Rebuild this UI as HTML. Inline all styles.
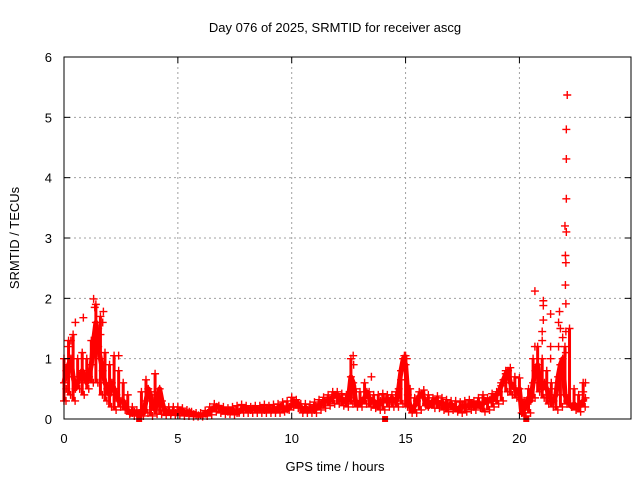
<!DOCTYPE html>
<html><head><meta charset="utf-8"><style>
body{margin:0;background:#fff;}
svg{display:block;font-family:"Liberation Sans",sans-serif;}
</style></head><body>
<svg id="chart" width="640" height="480">
<text x="335" y="32" text-anchor="middle" font-size="13">Day 076 of 2025, SRMTID for receiver ascg</text>
<text x="335" y="471" text-anchor="middle" font-size="13">GPS time / hours</text>
<text transform="translate(19,238) rotate(-90)" text-anchor="middle" font-size="13">SRMTID / TECUs</text>
<g id="grid"></g><g id="marks"></g><g id="axes"></g>
</svg>
<script>
const xTicks=[0,5,10,15,20];
const yTicks=[0,1,2,3,4,5,6];
const baseStart=0, baseStep=0.1;
const baseValues=[0.6,0.8,0.9,1.0,0.7,0.5,0.6,0.7,0.8,0.7,0.6,0.7,0.9,1.3,1.6,1.2,1.0,0.8,0.6,0.5,0.4,0.6,0.5,0.4,0.3,0.3,0.3,0.2,0.15,0.1,0.1,0.12,0.1,0.1,0.08,0.1,0.3,0.5,0.4,0.2,0.15,0.3,0.5,0.3,0.15,0.12,0.12,0.1,0.12,0.1,0.12,0.12,0.14,0.1,0.1,0.12,0.1,0.08,0.07,0.06,0.06,0.07,0.09,0.1,0.13,0.16,0.18,0.2,0.2,0.17,0.15,0.13,0.12,0.12,0.14,0.12,0.1,0.12,0.16,0.18,0.17,0.16,0.15,0.17,0.18,0.16,0.16,0.17,0.15,0.16,0.17,0.15,0.16,0.15,0.17,0.2,0.18,0.17,0.16,0.2,0.22,0.3,0.28,0.25,0.2,0.15,0.18,0.15,0.16,0.18,0.15,0.2,0.22,0.25,0.28,0.3,0.3,0.32,0.36,0.4,0.38,0.35,0.3,0.3,0.28,0.35,0.7,0.6,0.3,0.25,0.28,0.3,0.35,0.45,0.35,0.3,0.3,0.25,0.22,0.3,0.3,0.32,0.3,0.3,0.35,0.3,0.3,0.5,0.8,1.0,0.9,0.4,0.2,0.15,0.22,0.3,0.38,0.42,0.35,0.25,0.2,0.25,0.3,0.3,0.28,0.25,0.28,0.22,0.2,0.22,0.25,0.2,0.18,0.15,0.2,0.22,0.2,0.22,0.22,0.25,0.2,0.22,0.28,0.2,0.25,0.3,0.3,0.32,0.3,0.35,0.4,0.45,0.55,0.65,0.75,0.8,0.6,0.55,0.5,0.45,0.5,0.1,0.15,0.25,0.35,0.3,0.6,0.8,0.9,0.6,0.5,0.6,0.5,0.4,0.3,0.3,0.4,0.7,0.9,1.0,0.4,0.3,0.25,0.2,0.25,0.2,0.2,0.25,0.3,0.35];
const envStep=0.2;
const upperValues=[1.0,1.3,1.4,1.0,1.1,1.0,1.3,1.9,1.7,1.1,0.9,1.05,0.8,0.6,0.4,
0.2,0.15,0.45,0.65,0.45,0.75,0.3,0.2,0.2,0.2,0.2,0.18,0.15,0.12,0.1,
0.1,0.14,0.2,0.25,0.22,0.2,0.18,0.2,0.22,0.24,0.22,0.2,0.22,0.22,0.24,
0.22,0.24,0.25,0.28,0.3,0.36,0.32,0.25,0.25,0.24,0.28,0.32,0.36,0.4,0.45,
0.45,0.42,0.4,1.0,0.5,0.45,0.6,0.45,0.4,0.4,0.42,0.4,0.4,0.45,0.65,
1.05,0.5,0.35,0.45,0.48,0.4,0.35,0.38,0.35,0.32,0.3,0.3,0.28,0.3,0.32,
0.3,0.35,0.4,0.35,0.42,0.45,0.6,0.8,0.85,0.7,0.68,0.3,0.5,1.0,1.2,
1.0,0.8,0.6,0.5,0.9,1.2,1.5,0.5,0.4,0.6];
const lowerValues=[0.3,0.4,0.3,0.5,0.4,0.5,0.6,0.6,0.4,0.3,0.2,0.15,0.2,0.15,0.08,
0.05,0.05,0.05,0.1,0.05,0.08,0.08,0.06,0.07,0.06,0.06,0.05,0.05,0.04,0.04,
0.04,0.05,0.07,0.12,0.1,0.08,0.08,0.07,0.1,0.1,0.1,0.1,0.1,0.1,0.1,
0.1,0.1,0.1,0.12,0.15,0.2,0.18,0.1,0.1,0.1,0.1,0.15,0.18,0.22,0.25,
0.25,0.22,0.2,0.25,0.2,0.2,0.25,0.2,0.18,0.15,0.15,0.2,0.2,0.2,0.25,
0.2,0.1,0.1,0.15,0.22,0.25,0.18,0.18,0.15,0.12,0.15,0.12,0.1,0.12,0.15,
0.15,0.18,0.12,0.15,0.2,0.25,0.3,0.45,0.4,0.35,0.32,0.05,0.1,0.35,0.45,
0.35,0.25,0.2,0.15,0.2,0.25,0.2,0.15,0.12,0.2];
const spikeTimes=[22.1,22.06,22.06,22.06,22.0,22.06,22.02,22.04,22.02,20.68,22.04,21.05,21.05,21.37,21.05,21.76,21.72,21.8,22.04,21.0,21.9,21.0,21.37,21.72,20.68,21.37,22.04,0.5,0.85,1.3,1.35,1.73,1.7,0.2,0.3,1.5,1.6,2.4,12.7,12.72,13.5,14.95,15.05,14.1,20.3,3.3,0.1,0.0,22.9,22.8];
const spikeValues=[5.37,4.8,4.31,3.65,3.2,3.1,2.71,2.59,2.22,2.12,1.91,1.96,1.88,1.74,1.64,1.78,1.6,1.5,1.45,1.45,1.35,1.3,1.2,1.2,1.2,1.0,1.1,1.6,1.68,1.99,1.85,1.78,1.6,1.2,1.3,1.5,1.4,1.05,1.05,0.9,0.7,1.05,1.0,0,0,0,0.5,0.3,0.6,0.45];
const X0=64,X1=631,Y0=419,Y1=57,XMAX=24.9,YMAX=6;
const xs=v=>X0+(v/XMAX)*(X1-X0);
const ys=v=>Y0-(v/YMAX)*(Y0-Y1);
const NS="http://www.w3.org/2000/svg";
function mk(tag,attrs,parent){const e=document.createElementNS(NS,tag);for(const k in attrs)e.setAttribute(k,attrs[k]);parent.appendChild(e);return e;}
const grid=document.getElementById('grid'),marks=document.getElementById('marks'),axes=document.getElementById('axes');
xTicks.forEach(t=>{
  if(t>0){const g=mk('line',{x1:xs(t),x2:xs(t),y1:Y0,y2:Y1,stroke:'#a0a0a0','stroke-dasharray':'2,3'},grid);
  
  }
  const a=mk('line',{x1:xs(t),x2:xs(t),y1:Y0,y2:Y0-6,stroke:'#000'},axes);
  
  
  const b=mk('line',{x1:xs(t),x2:xs(t),y1:Y1,y2:Y1+6,stroke:'#000'},axes);
  
  
  const l=mk('text',{x:xs(t),y:443,'text-anchor':'middle','font-size':'13'},axes);l.textContent=t;
  
  
});
yTicks.forEach(t=>{
  if(t>0&&t<6){const g=mk('line',{x1:X0,x2:X1,y1:ys(t),y2:ys(t),stroke:'#a0a0a0','stroke-dasharray':'2,3'},grid);
  
  }
  const a=mk('line',{x1:X0,x2:X0+6,y1:ys(t),y2:ys(t),stroke:'#000'},axes);
  
  
  const b=mk('line',{x1:X1,x2:X1-6,y1:ys(t),y2:ys(t),stroke:'#000'},axes);
  
  
  const l=mk('text',{x:52,y:ys(t)+5,'text-anchor':'end','font-size':'13'},axes);l.textContent=t;
  
  
});
const box=mk('rect',{x:X0,y:Y1,width:X1-X0,height:Y0-Y1,fill:'none',stroke:'#000'},axes);


function plus(x,y,name){const p=mk('path',{d:`M${x-4},${y}h8M${x},${y-4}v8`,stroke:'#f00','stroke-width':1.4},marks);
  
  }
upperValues.forEach((u,i)=>{
  const x=xs(i*envStep);
  const s=mk('line',{x1:x,x2:x,y1:ys(u),y2:ys(lowerValues[i]),stroke:'#f00','stroke-width':3},marks);
  
  
  plus(x,ys(u),'srmtid-upper-point');
  plus(x+2,ys(lowerValues[i]),'srmtid-lower-point');
});
let d='';baseValues.forEach((v,i)=>{d+=(i?'L':'M')+xs(baseStart+i*baseStep).toFixed(1)+','+ys(v).toFixed(1);});
const band=mk('path',{d:d,fill:'none',stroke:'#f00','stroke-width':5,'stroke-linejoin':'round'},marks);


baseValues.forEach((v,i)=>plus(xs(baseStart+i*baseStep),ys(v),'srmtid-point'));
spikeTimes.forEach((t,i)=>{
  if(spikeValues[i]===0){const s=mk('rect',{x:xs(t)-3,y:Y0-3,width:6,height:6,fill:'#f00'},marks);
    
    }
  else plus(xs(t),ys(spikeValues[i]),'srmtid-spike-point');
});
</script>
</body></html>
